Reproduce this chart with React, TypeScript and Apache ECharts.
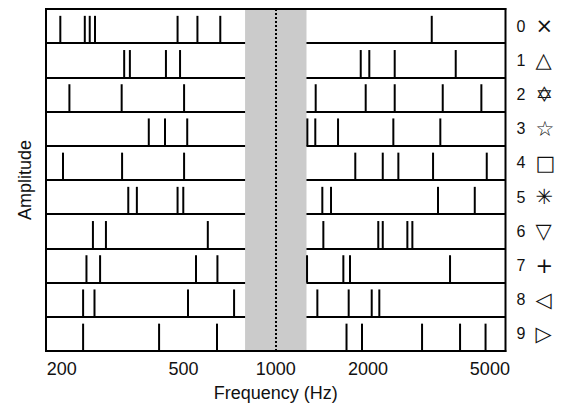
import React, { useEffect, useRef } from 'react';
import * as echarts from 'echarts';

const rowLabels = ['0', '1', '2', '3', '4', '5', '6', '7', '8', '9'];
const rowSymbols = ['×', '△', '✡', '☆', '□', '✳', '▽', '+', '◁', '▷'];

const row0Freqs = [198, 238, 247, 257, 478, 555, 659, 3230];
const row1Freqs = [320, 334, 438, 487, 1894, 2020, 2445, 3868];
const row2Freqs = [212, 314, 502, 1350, 1966, 2445, 3508, 4690];
const row3Freqs = [385, 435, 514, 1268, 1346, 1597, 2420, 3445];
const row4Freqs = [202, 315, 502, 1818, 2235, 2513, 3262, 4884];
const row5Freqs = [330, 352, 478, 499, 1419, 1515, 3386, 4463];
const row6Freqs = [253, 279, 600, 1430, 2161, 2235, 2689, 2792];
const row7Freqs = [241, 267, 549, 645, 1265, 1662, 1747, 3706];
const row8Freqs = [235, 256, 517, 731, 1367, 1730, 2057, 2178];
const row9Freqs = [235, 416, 643, 1702, 1912, 3003, 3996, 4840];

const allRows = [row0Freqs, row1Freqs, row2Freqs, row3Freqs, row4Freqs, row5Freqs, row6Freqs, row7Freqs, row8Freqs, row9Freqs];

const xTickValues = [200, 500, 1000, 2000, 5000];
const bandRange = [794, 1260];
const markerFreq = 1000;
const xMin = 177.8;
const xMax = 5623;

export default function App() {
  const ref = useRef<HTMLDivElement>(null);
  useEffect(() => {
    const chart = echarts.init(ref.current!, null, { renderer: 'svg' });
    const lineData = allRows.flatMap((fs, i) => fs.map((f) => [f, i]));
    const borderLine = { show: true, onZero: false, lineStyle: { color: '#000', width: 2 } };
    chart.setOption({
      animation: false,
      backgroundColor: '#ffffff',
      textStyle: { fontFamily: 'Liberation Sans, Arial, sans-serif' },
      grid: {
        left: 46,
        right: 55.5,
        top: 9,
        bottom: 54,
        show: true,
        borderColor: '#000',
        borderWidth: 2,
        backgroundColor: 'transparent',
      },
      xAxis: [
        {
          type: 'log',
          logBase: 10,
          min: xMin,
          max: xMax,
          position: 'bottom',
          z: 10,
          axisLine: borderLine,
          axisTick: { show: false },
          splitLine: { show: false },
          axisLabel: {
            customValues: xTickValues,
            fontSize: 18,
            color: '#111',
            margin: 9,
            formatter: (v: number) => String(Math.round(v)),
          },
          name: 'Frequency (Hz)',
          nameLocation: 'middle',
          nameGap: 33,
          nameTextStyle: { fontSize: 18, color: '#111' },
        },
        {
          type: 'log',
          logBase: 10,
          min: xMin,
          max: xMax,
          position: 'top',
          z: 10,
          axisLine: borderLine,
          axisTick: { show: false },
          splitLine: { show: false },
          axisLabel: { show: false },
        },
      ],
      yAxis: [
        {
          type: 'value',
          position: 'right',
          inverse: true,
          min: 0,
          max: 10,
          interval: 1,
          axisLine: { show: false },
          axisTick: { show: false },
          splitLine: { show: true, lineStyle: { color: '#000', width: 2 } },
          axisLabel: {
            customValues: rowLabels.map((_, i) => i + 0.5),
            margin: 11,
            formatter: (v: number) => {
              const i = Math.floor(v);
              return `{d|${rowLabels[i]}}{s|${rowSymbols[i]}}`;
            },
            rich: {
              d: { fontSize: 16, color: '#111', fontFamily: 'Liberation Sans, Arial, sans-serif' },
              s: { fontSize: 21, color: '#111', fontFamily: 'DejaVu Sans', padding: [0, 0, 0, 10] },
            },
          },
        },
        {
          type: 'value',
          position: 'left',
          inverse: true,
          min: 0,
          max: 10,
          axisLine: { show: false },
          axisTick: { show: false },
          axisLabel: { show: false },
          splitLine: { show: false },
          name: 'Amplitude',
          nameLocation: 'middle',
          nameGap: 12,
          nameRotate: 90,
          nameTextStyle: { fontSize: 18, color: '#111' },
        },
      ],
      series: [
        {
          type: 'custom',
          xAxisIndex: 0,
          yAxisIndex: 0,
          encode: { x: 0, y: 1 },
          data: lineData,
          z: 3,
          renderItem: (params: any, api: any) => {
            const f = api.value(0);
            const r = api.value(1);
            const bottom = api.coord([f, r + 1]);
            const top = api.coord([f, r + 0.2]);
            return {
              type: 'line',
              shape: { x1: bottom[0], y1: bottom[1], x2: top[0], y2: top[1] },
              style: { stroke: '#000', lineWidth: 2 },
            };
          },
        },
        {
          type: 'line',
          data: [],
          xAxisIndex: 0,
          yAxisIndex: 0,
          z: 5,
          markArea: {
            silent: true,
            itemStyle: { color: '#cbcbcb' },
            data: [[{ xAxis: bandRange[0] }, { xAxis: bandRange[1] }]],
          },
        },
        {
          type: 'line',
          data: [],
          xAxisIndex: 0,
          yAxisIndex: 0,
          z: 6,
          markLine: {
            silent: true,
            symbol: 'none',
            label: { show: false },
            lineStyle: { color: '#000', type: 'dotted', width: 2 },
            data: [{ xAxis: markerFreq }],
          },
        },
      ],
    });
    return () => chart.dispose();
  }, []);
  return <div ref={ref} style={{ position: 'absolute', left: 0, top: 0, width: 561, height: 407 }} />;
}
